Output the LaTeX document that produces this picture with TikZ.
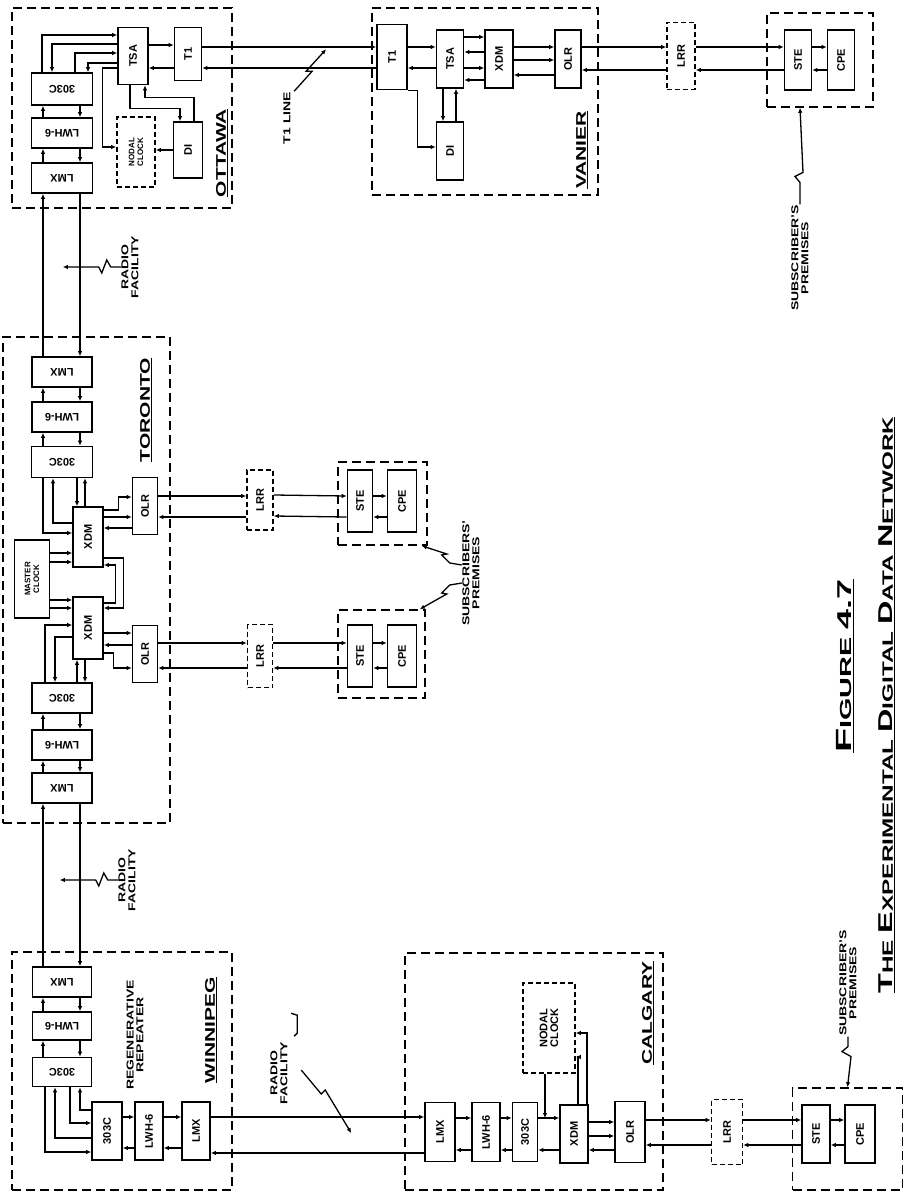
\documentclass[tikz,border=0pt]{standalone}
\usepackage{fontspec}
\setmainfont{Liberation Sans}
\usetikzlibrary{arrows.meta}

\newcommand{\rup}[1]{\rotatebox{90}{#1}}
\newcommand{\rdn}[1]{\rotatebox{180}{#1}}
\newcommand{\widen}[2]{\scalebox{#1}[1]{#2}}
\newcommand{\stn}[1]{\rup{\underline{\widen{1.5}{#1}}}}
\newcommand{\note}[1]{\rup{\widen{1.4}{\shortstack{#1}}}}
\newcommand{\bigc}[1]{{\fontsize{20}{20}\selectfont #1}}

\tikzset{
  blk/.style={draw, line width=1.6pt, inner sep=0pt, font=\bfseries\fontsize{11}{12}\selectfont},
  wh/.style 2 args={minimum width=#1pt, minimum height=#2pt},
  dblk/.style={blk, dash pattern=on 5pt off 3pt},
  region/.style={draw, line width=1.6pt, dash pattern=on 9pt off 5pt, inner sep=0pt},
  lab/.style={inner sep=0pt, font=\bfseries\fontsize{10}{11}\selectfont},
  stnlab/.style={inner sep=0pt, font=\bfseries\fontsize{14}{16}\selectfont},
  clk/.style={font=\bfseries\fontsize{8}{9}\selectfont}
}

\begin{document}
\begin{tikzpicture}[x=1pt, y=-1pt, line width=1.3pt, >={Latex[length=5pt,width=4.5pt]}]
    \fill[white] (0,0) rectangle (904,1193);
    \useasboundingbox (0,0) rectangle (904,1193);

    % Ottawa
    \node[region, wh={220}{200}] (ottawa) at (122,108) {};
    \node[blk, wh={61}{32}] (o303) at (62,89) {\rdn{303C}};
    \node[blk, wh={61}{30}] (olwh) at (62,133) {\rdn{LWH-6}};
    \node[blk, wh={61}{30}] (olmx) at (62,178) {\rdn{LMX}};
    \node[blk, wh={30}{57}] (otsa) at (133,56) {\rup{TSA}};
    \node[blk, wh={27}{53}] (ot1) at (188,54) {\rup{T1}};
    \node[blk, wh={29}{56}] (odi) at (188,150) {\rup{DI}};
    \node[dblk, clk, wh={38}{70}] (oclk) at (136,152) {\rup{\shortstack{NODAL\\CLOCK}}};
    \node[stnlab] (ottawalbl) at (222,153) {\stn{OTTAWA}};

    \draw[->] ([xshift=-20pt]o303.north) |- ([yshift=21pt]otsa.west);
    \draw[<-] ([xshift=-10pt]o303.north) |- ([yshift=12pt]otsa.west);
    \draw[->] ([xshift=13pt]o303.north) |- ([yshift=3pt]otsa.west);
    \draw[<-] ([xshift=26pt]o303.north) |- ([yshift=-7pt]otsa.west);
    \draw[->] ([yshift=-12pt]otsa.west) -- ++(-15,0) |- ([yshift=5pt]oclk.west);
    \draw[->] (odi.west) -- (odi.west -| oclk.east);
    \draw[->] ([xshift=-3pt]otsa.south) -- ++(0,23) -| ([xshift=-8pt]odi.north);
    \draw[<-] ([xshift=12pt]otsa.south) -- ++(0,12) -| ([xshift=6pt]odi.north);
    \draw[->] ([yshift=11pt]otsa.east) -- ([yshift=9pt]ot1.west);
    \draw[<-] ([yshift=-12pt]otsa.east) -- ([yshift=-14pt]ot1.west);

    % Vanier
    \node[region, wh={226}{187}] (vanier) at (485,101.5) {};
    \node[blk, wh={30}{65}] (vt1) at (392,57) {\rup{T1}};
    \node[blk, wh={27}{58}] (vtsa) at (450,59) {\rup{TSA}};
    \node[blk, wh={28}{58}] (vxdm) at (499,59) {\rup{XDM}};
    \node[blk, wh={26}{58}] (volr) at (568,59) {\rup{OLR}};
    \node[blk, wh={27}{58}] (vdi) at (450,151) {\rup{DI}};
    \node[stnlab] (vanierlbl) at (582,150) {\stn{VANIER}};

    \draw[->] ([yshift=10pt]vt1.east) -- ([yshift=12pt]vtsa.west);
    \draw[<-] ([yshift=-11pt]vt1.east) -- ([yshift=-9pt]vtsa.west);
    \foreach \sh/\dir in {22/->, 7/<-, -9/->, -21/<-}
        \draw[\dir] ([yshift=\sh pt]vtsa.east) -- ([yshift=\sh pt]vxdm.west);
    \foreach \sh/\dir in {12/->, -1/->, -16/<-}
        \draw[\dir] ([yshift=\sh pt]vxdm.east) -- ([yshift=\sh pt]volr.west);
    \draw[->] ([xshift=-7pt]vtsa.south) -- ([xshift=-7pt]vdi.north);
    \draw[<-] ([xshift=6pt]vtsa.south) -- ([xshift=6pt]vdi.north);
    \draw[->] (vt1.south east) -- ++(10,0) |- ([yshift=4pt]vdi.west);

    % T1 line Ottawa - Vanier
    \draw[->] ([yshift=7pt]ot1.east) -- ([yshift=10pt]vt1.west);
    \draw[<-] ([yshift=-14pt]ot1.east) -- ([yshift=-11pt]vt1.west);
    \node[lab] (t1lbl) at (287,118) {\note{T1 LINE}};
    \draw[->] ([xshift=3pt]t1lbl.north east) -- ++(18,-20) -- ++(-6,0) -- ++(20,-22);

    % Vanier subscriber
    \node[dblk, wh={28}{67}] (vlrr) at (681,56) {\rup{LRR}};
    \node[region, wh={106}{94}] (vsub) at (820,60) {};
    \node[blk, wh={27}{60}] (vste) at (798,60) {\rup{STE}};
    \node[blk, wh={27}{60}] (vcpe) at (841,60) {\rup{CPE}};
    \draw[->] ([yshift=12pt]volr.east) -- ([yshift=9pt]vlrr.west);
    \draw[<-] ([yshift=-11pt]volr.east) -- ([yshift=-14pt]vlrr.west);
    \draw[->] ([yshift=9pt]vlrr.east) -- ([yshift=13pt]vste.west);
    \draw[<-] ([yshift=-14pt]vlrr.east) -- ([yshift=-10pt]vste.west);
    \draw[->] ([yshift=13pt]vste.east) -- ([yshift=13pt]vcpe.west);
    \draw[<-] ([yshift=-10pt]vste.east) -- ([yshift=-10pt]vcpe.west);
    \node[lab] (vsublbl) at (800,258) {\note{SUBSCRIBER'S\\PREMISES}};
    \draw[->] (vsublbl.north) -- ++(0,-22) -- ++(-5,-6) -- ++(8,-4) -- ([xshift=-20pt]vsub.south);

    % Toronto
    \node[region, wh={167}{486}] (toronto) at (86.5,580) {};
    \node[blk, wh={60}{30}] (tlmx1) at (62,372) {\rdn{LMX}};
    \node[blk, wh={60}{30}] (tlwh1) at (62,417) {\rdn{LWH-6}};
    \node[blk, wh={61}{31}] (t3031) at (62,462) {\rdn{303C}};
    \node[blk, wh={30}{60}] (txdm1) at (88,537) {\rup{XDM}};
    \node[blk, wh={25}{57}] (tolr1) at (145,506) {\rup{OLR}};
    \node[blk, clk, wh={35}{78}] (tclk) at (32,579) {\rup{\shortstack{MASTER\\CLOCK}}};
    \node[blk, wh={30}{62}] (txdm2) at (88,628) {\rup{XDM}};
    \node[blk, wh={25}{57}] (tolr2) at (145,654) {\rup{OLR}};
    \node[blk, wh={60}{30}] (t3032) at (62,698) {\rdn{303C}};
    \node[blk, wh={60}{30}] (tlwh2) at (62,745) {\rdn{LWH-6}};
    \node[blk, wh={60}{30}] (tlmx2) at (62,788) {\rdn{LMX}};
    \node[stnlab] (torontolbl) at (146,410) {\stn{TORONTO}};

    \draw[->] ([xshift=-19pt]t3031.south) |- ([yshift=4pt]txdm1.west);
    \draw[<-] ([xshift=-9pt]t3031.south) |- ([yshift=14pt]txdm1.west);
    \draw[->] ([xshift=15pt]t3031.south) -- ([xshift=-11pt]txdm1.north);
    \draw[<-] ([xshift=23pt]t3031.south) -- ([xshift=-3pt]txdm1.north);
    \draw[->] ([yshift=26pt]tclk.east) -- ([yshift=-16pt]txdm1.west);
    \draw[->] ([yshift=17pt]tclk.east) -- ([yshift=-25pt]txdm1.west);
    \draw[->] ([yshift=-21pt]tclk.east) -- ([yshift=28pt]txdm2.west);
    \draw[->] ([yshift=-29pt]tclk.east) -- ([yshift=20pt]txdm2.west);
    \draw[->] ([yshift=-21pt]txdm1.east) -- ++(20,0) |- ([yshift=20pt]txdm2.east);
    \draw[<-] ([yshift=-28pt]txdm1.east) -- ++(12,0) |- ([yshift=25pt]txdm2.east);
    \draw[->] ([yshift=27pt]txdm1.east) -- ++(15,0) |- ([yshift=9pt]tolr1.west);
    \draw[->] ([yshift=20pt]txdm1.east) -- ([yshift=-11pt]tolr1.west);
    \draw[<-] ([yshift=9pt]txdm1.east) -- ([yshift=-22pt]tolr1.west);
    \draw[->] ([xshift=-17pt]t3032.north) |- ([yshift=3pt]txdm2.west);
    \draw[<-] ([xshift=-7pt]t3032.north) |- ([yshift=-9pt]txdm2.west);
    \draw[->] ([xshift=15pt]t3032.north) -- ([xshift=-11pt]txdm2.south);
    \draw[<-] ([xshift=23pt]t3032.north) -- ([xshift=-3pt]txdm2.south);
    \draw[->] ([yshift=-5pt]txdm2.east) -- ([yshift=21pt]tolr2.west);
    \draw[<-] ([yshift=-17pt]txdm2.east) -- ([yshift=9pt]tolr2.west);
    \draw[->] ([yshift=-25pt]txdm2.east) -- ++(10,0) |- ([yshift=-14pt]tolr2.west);

    % Toronto subscribers
    \node[dblk, wh={26}{60}] (tlrr1) at (260,500) {\rup{LRR}};
    \node[region, wh={89}{83}] (tsub1) at (382.5,503.5) {};
    \node[blk, wh={25}{62}] (tste1) at (360,501) {\rup{STE}};
    \node[blk, wh={29}{62}] (tcpe1) at (402,501) {\rup{CPE}};
    \node[dblk, wh={25}{63}] (tlrr2) at (260,656) {\rup{LRR}};
    \node[region, wh={87}{88}] (tsub2) at (381.5,654) {};
    \node[blk, wh={25}{62}] (tste2) at (360,656) {\rup{STE}};
    \node[blk, wh={29}{62}] (tcpe2) at (402,656) {\rup{CPE}};
    \draw[->] ([yshift=10pt]tolr1.east) -- ([yshift=4pt]tlrr1.west);
    \draw[<-] ([yshift=-11pt]tolr1.east) -- ([yshift=-17pt]tlrr1.west);
    \draw[->] ([yshift=11pt]tolr2.east) -- ([yshift=13pt]tlrr2.west);
    \draw[<-] ([yshift=-14pt]tolr2.east) -- ([yshift=-12pt]tlrr2.west);
    \foreach \a/\b/\c/\p/\q in {tlrr1/tste1/tcpe1/5/-16, tlrr2/tste2/tcpe2/13/-12} {
        \draw[->] ([yshift=\p pt]\a.east) -- ([yshift=\p pt]\b.west);
        \draw[<-] ([yshift=\q pt]\a.east) -- ([yshift=\q pt]\b.west);
        \draw[->] ([yshift=\p pt]\b.east) -- ([yshift=\p pt]\c.west);
        \draw[<-] ([yshift=\q pt]\b.east) -- ([yshift=\q pt]\c.west);
    }
    \node[lab] (tsublbl) at (471,573) {\note{SUBSCRIBERS'\\PREMISES}};
    \draw[->] ([yshift=8pt]tsublbl.west) -- ++(-12,-2) -- ++(-8,-8) -- ++(5,-1) -- ([xshift=-6pt]tsub1.south east);
    \draw[->] ([yshift=-10pt]tsublbl.west) -- ++(-12,2) -- ++(-8,8) -- ++(5,1) -- ([xshift=-6pt]tsub2.north east);

    % Winnipeg
    \node[region, wh={220}{238}] (winnipeg) at (122,1071) {};
    \node[blk, wh={59}{30}] (wlmx1) at (62,982) {\rdn{LMX}};
    \node[blk, wh={59}{28}] (wlwh1) at (62,1026) {\rdn{LWH-6}};
    \node[blk, wh={59}{29}] (w303a) at (62,1072) {\rdn{303C}};
    \node[blk, wh={30}{58}] (w303b) at (107,1131) {\rup{303C}};
    \node[blk, wh={28}{58}] (wlwh2) at (149,1131) {\rup{LWH-6}};
    \node[blk, wh={28}{58}] (wlmx2) at (196,1131) {\rup{LMX}};
    \node[lab] (regenlbl) at (135,1035) {\note{REGENERATIVE\\REPEATER}};
    \node[stnlab] (winnipeglbl) at (211,1030) {\stn{WINNIPEG}};

    \draw[->] ([xshift=-17pt]w303a.south) |- ([yshift=-21pt]w303b.west);
    \draw[<-] ([xshift=-7pt]w303a.south) |- ([yshift=-7pt]w303b.west);
    \draw[->] ([xshift=8pt]w303a.south) |- ([yshift=8pt]w303b.west);
    \draw[<-] ([xshift=18pt]w303a.south) |- ([yshift=21pt]w303b.west);
    \foreach \a/\b in {w303b/wlwh2, wlwh2/wlmx2} {
        \draw[->] ([yshift=14pt]\a.east) -- ([yshift=14pt]\b.west);
        \draw[<-] ([yshift=-17pt]\a.east) -- ([yshift=-17pt]\b.west);
    }

    % LMX / LWH-6 / 303C pairs and radio links
    \foreach \ua/\lb in {o303/olwh, olwh/olmx, olmx/tlmx1, tlmx1/tlwh1, tlwh1/t3031,
                         t3032/tlwh2, tlwh2/tlmx2, tlmx2/wlmx1, wlmx1/wlwh1, wlwh1/w303a} {
        \draw[<-] ([xshift=-19pt]\ua.south) -- ([xshift=-19pt]\lb.north);
        \draw[->] ([xshift=18pt]\ua.south) -- ([xshift=18pt]\lb.north);
    }
    \node[lab] (orad) at (130,267) {\note{RADIO\\FACILITY}};
    \draw[->] (orad.west) -- ++(-10,0) -- ++(-4,-7) -- ++(-5,13) -- ++(-3,-6) -- ++(-36,0);
    \node[lab] (wrad) at (127,880) {\note{RADIO\\FACILITY}};
    \draw[->] (wrad.west) -- ++(-10,0) -- ++(-4,-7) -- ++(-5,13) -- ++(-3,-6) -- ++(-36,0);

    % Calgary
    \node[region, wh={258}{237}] (calgary) at (534,1071.5) {};
    \node[blk, wh={30}{59}] (clmx) at (440,1132) {\rup{LMX}};
    \node[blk, wh={28}{59}] (clwh) at (486,1132) {\rup{LWH-6}};
    \node[blk, wh={25}{59}] (c303) at (525,1132) {\rup{303C}};
    \node[blk, wh={28}{58}] (cxdm) at (574,1134) {\rup{XDM}};
    \node[blk, wh={30}{61}] (colr) at (630,1132) {\rup{OLR}};
    \node[dblk, wh={52}{90}] (cclk) at (549,1028) {\rup{\shortstack{NODAL\\CLOCK}}};
    \node[stnlab] (calgarylbl) at (648,1013) {\stn{CALGARY}};

    \foreach \a/\b in {clmx/clwh, clwh/c303} {
        \draw[->] ([yshift=14pt]\a.east) -- ([yshift=14pt]\b.west);
        \draw[<-] ([yshift=-18pt]\a.east) -- ([yshift=-18pt]\b.west);
    }
    \draw[->] ([yshift=14pt]c303.east) -- ([yshift=16pt]cxdm.west);
    \draw[<-] ([yshift=-18pt]c303.east) -- ([yshift=-16pt]cxdm.west);
    \coordinate (cjoin) at (545,1118);
    \draw[->] (cclk.south -| cjoin) -- (cjoin);
    \draw[->] ([xshift=13pt]cxdm.north) |- ([yshift=-5pt]cclk.east);
    \draw[->] ([xshift=4pt]cxdm.north) |- ([yshift=-29pt]cclk.east);
    \foreach \sh/\th/\dir in {12/10/->, -2/-4/->, -16/-18/<-}
        \draw[\dir] ([yshift=\sh pt]cxdm.east) -- ([yshift=\th pt]colr.west);

    % radio link Winnipeg - Calgary
    \draw[->] ([yshift=14pt]wlmx2.east) -- ([yshift=15pt]clmx.west);
    \draw[<-] ([yshift=-22pt]wlmx2.east) -- ([yshift=-21pt]clmx.west);
    \node[lab] (crad) at (279,1073) {\note{RADIO\\FACILITY}};
    \draw[->] (crad.east) ++(13,-3) -- ++(20,24) -- ++(4,-4) -- ++(26,43);
    \draw[line width=1.4pt] (crad.north east) ++(3,-28) -- ++(6,2) -- ++(0,18) -- ++(-3,3);

    % Calgary subscriber
    \node[dblk, wh={31}{65}] (clrr) at (727,1132) {\rup{LRR}};
    \node[region, wh={110}{102}] (csub) at (847.5,1139) {};
    \node[blk, wh={28}{58}] (cste) at (816,1134) {\rup{STE}};
    \node[blk, wh={30}{58}] (ccpe) at (860,1134) {\rup{CPE}};
    \draw[->] ([yshift=12pt]colr.east) -- ([yshift=12pt]clrr.west);
    \draw[<-] ([yshift=-13pt]colr.east) -- ([yshift=-13pt]clrr.west);
    \draw[->] ([yshift=12pt]clrr.east) -- ([yshift=14pt]cste.west);
    \draw[<-] ([yshift=-13pt]clrr.east) -- ([yshift=-11pt]cste.west);
    \draw[->] ([yshift=14pt]cste.east) -- ([yshift=14pt]ccpe.west);
    \draw[<-] ([yshift=-11pt]cste.east) -- ([yshift=-11pt]ccpe.west);
    \node[lab] (csublbl) at (848,983) {\note{SUBSCRIBER'S\\PREMISES}};
    \draw[->] (csublbl.south) -- ++(0,10) -- ++(-6,5) -- ++(9,5) -- (csub.north);

    % Title
    \node[inner sep=0pt, font=\bfseries\fontsize{16}{16}\selectfont] (figlbl) at (845,666)
        {\rup{\underline{\widen{1.8}{{\fontsize{22}{22}\selectfont F}IGURE {\fontsize{20}{20}\selectfont 4.7}}}}};
    \node[inner sep=0pt, font=\bfseries\fontsize{15}{15}\selectfont] (titlelbl) at (887,705)
        {\rup{\underline{\widen{1.62}{\bigc{T}HE \bigc{E}XPERIMENTAL \bigc{D}IGITAL \bigc{D}ATA \bigc{N}ETWORK}}}};
\end{tikzpicture}
\end{document}
